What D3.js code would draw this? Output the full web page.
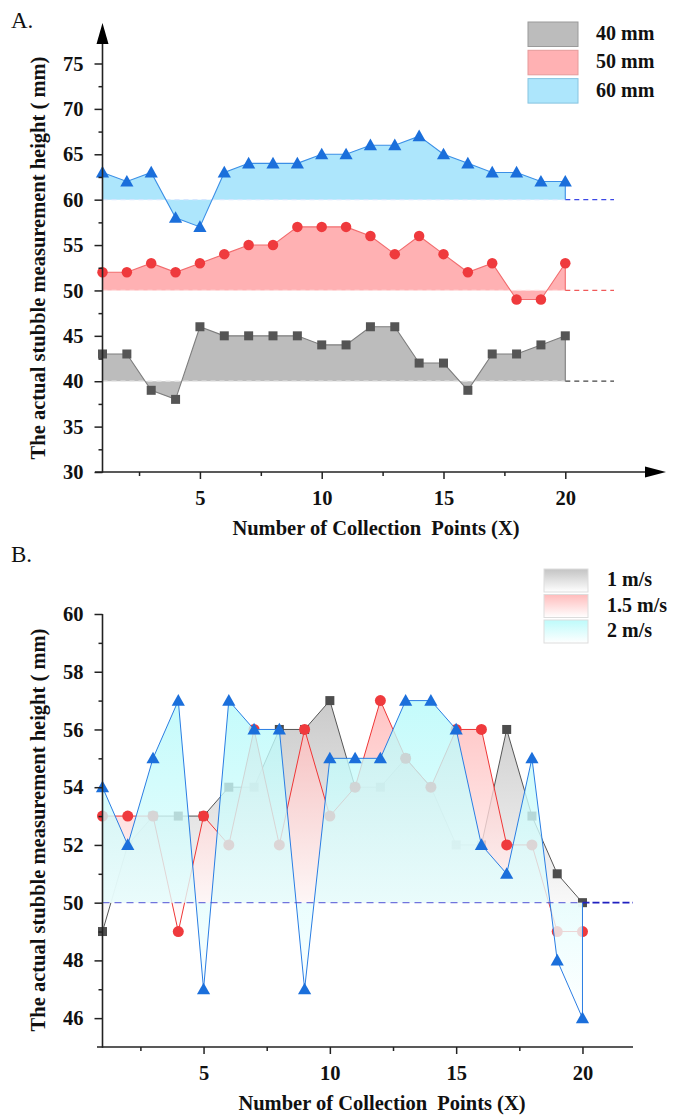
<!DOCTYPE html>
<html><head><meta charset="utf-8">
<script src="https://cdn.jsdelivr.net/npm/d3@7"></script>
<style>
body{margin:0;background:#fff}
svg{display:block}
text{font-family:"Liberation Serif","Times New Roman",serif;font-weight:bold;fill:#111;white-space:pre}
</style>
</head><body>
<svg id="c" width="682" height="1117"></svg>
<script>
// ---------- shared ----------
const points = [1,2,3,4,5,6,7,8,9,10,11,12,13,14,15,16,17,18,19,20];
const xTicks = [5,10,15,20];
const xMinorTicks = [2.5,7.5,12.5,17.5];
const xTitle = "Number of Collection  Points (X)";
const yTitle = "The actual stubble measurement height ( mm)";

// ---------- chart A ----------
const seriesA = ["40 mm","50 mm","60 mm"];
const baseA = [40,50,60];
const h40 = [43,43,39,38,46,45,45,45,45,44,44,46,46,42,42,39,43,43,44,45];
const h50 = [52,52,53,52,53,54,55,55,57,57,57,56,54,56,54,52,53,49,49,53];
const h60 = [63,62,63,58,57,63,64,64,64,65,65,66,66,67,65,64,63,63,62,62];
const yTicksA = [30,35,40,45,50,55,60,65,70,75];
const yMinorA = [32.5,37.5,42.5,47.5,52.5,57.5,62.5,67.5,72.5];

// ---------- chart B ----------
const seriesB = ["1 m/s","1.5 m/s","2 m/s"];
const v1  = [49,52,53,53,53,54,54,56,56,57,54,54,55,54,52,52,56,53,51,50];
const v15 = [53,53,53,49,53,52,56,52,56,53,54,57,55,54,56,56,52,52,49,49];
const v2  = [54,52,55,57,47,57,56,56,47,55,55,55,57,57,56,52,51,55,48,46];
const baseB = 50;
const yTicksB = [46,48,50,52,54,56,58,60];
const yMinorB = [47,49,51,53,55,57,59];

const svg = d3.select("#c");
const defs = svg.append("defs");
const TICK_FS = "20.5px", TITLE_FS = "20.5px", LEG_FS = "20px";

function shape(g, type, x, y, color, size){
  if(type==="square"){
    g.append("rect").attr("x",x-size/2).attr("y",y-size/2).attr("width",size).attr("height",size).attr("fill",color);
  } else if(type==="circle"){
    g.append("circle").attr("cx",x).attr("cy",y).attr("r",size/2).attr("fill",color);
  } else {
    const s=size;
    g.append("path").attr("d",`M${x},${y-s*0.55}L${x+s*0.55},${y+s*0.42}L${x-s*0.55},${y+s*0.42}Z`).attr("fill",color);
  }
}

function axes(g, x, y, yTicks, yMinor){
  const ya = d3.axisLeft(y).tickValues(yTicks).tickSize(8).tickPadding(11).tickSizeOuter(0);
  const gy = g.append("g").attr("transform",`translate(${x.range()[0]},0)`).call(ya);
  gy.select(".domain").remove();
  gy.selectAll("line").attr("stroke","#222").attr("stroke-width",1.5);
  gy.selectAll("text").style("font-size",TICK_FS).attr("fill","#111");
  const ym = d3.axisLeft(y).tickValues(yMinor).tickSize(4).tickFormat("");
  const gym = g.append("g").attr("transform",`translate(${x.range()[0]},0)`).call(ym);
  gym.select(".domain").remove();
  gym.selectAll("line").attr("stroke","#222").attr("stroke-width",1.5);

  const xa = d3.axisBottom(x).tickValues(xTicks).tickSize(7).tickPadding(11).tickSizeOuter(0);
  const gx = g.append("g").attr("transform",`translate(0,${y.range()[0]})`).call(xa);
  gx.select(".domain").remove();
  gx.selectAll("line").attr("stroke","#222").attr("stroke-width",1.5);
  gx.selectAll("text").style("font-size",TICK_FS).attr("fill","#111");
  const xm = d3.axisBottom(x).tickValues(xMinorTicks).tickSize(4).tickFormat("");
  const gxm = g.append("g").attr("transform",`translate(0,${y.range()[0]})`).call(xm);
  gxm.select(".domain").remove();
  gxm.selectAll("line").attr("stroke","#222").attr("stroke-width",1.5);
}

// ================= CHART A =================
{
  const x = d3.scaleLinear([1,22],[102.5,614]);
  const y = d3.scaleLinear([30,75],[472,63.5]);
  const g = svg.append("g");
  const dataA = [h40,h50,h60];
  const fills = ["#bcbcbc","#ffb1b3","#ade6fc"];
  const lines = ["#7d7d7d","#f26c6e","#3b8fe6"];
  const marks = ["#555555","#ef3a3d","#1b6fdb"];
  const dashIn = ["#e6e6e6","#ffe0e0","#d6e6ff"];
  const dashOut = ["#444444","#f05a5a","#3c48e6"];
  const types = ["square","circle","triangle"];
  const sizes = [9,10.5,12];
  dataA.forEach((vals,i)=>{
    const base = baseA[i];
    const d = points.map((p,j)=>[p,vals[j]]);
    g.append("path").datum(d)
      .attr("d", d3.area().x(p=>x(p[0])).y0(y(base)).y1(p=>y(p[1])))
      .attr("fill",fills[i]);
    g.append("line").attr("x1",x(1)).attr("x2",x(20)).attr("y1",y(base)).attr("y2",y(base))
      .attr("stroke",dashIn[i]).attr("stroke-width",1.3).attr("stroke-dasharray","5,4");
    g.append("line").attr("x1",x(20)).attr("x2",x(22)).attr("y1",y(base)).attr("y2",y(base))
      .attr("stroke",dashOut[i]).attr("stroke-width",1.3).attr("stroke-dasharray","5,4");
    g.append("path").datum(d.concat([[20,base]]))
      .attr("d", d3.line().x(p=>x(p[0])).y(p=>y(p[1])))
      .attr("fill","none").attr("stroke",lines[i]).attr("stroke-width",1.1);
    const mg = g.append("g");
    d.forEach(p=>shape(mg,types[i],x(p[0]),y(p[1]),marks[i],sizes[i]));
  });
  axes(g,x,y,yTicksA,yMinorA);
  g.append("line").attr("x1",x.range()[0]).attr("x2",x.range()[0]).attr("y1",y(30)+0.7).attr("y2",40)
    .attr("stroke","#222").attr("stroke-width",1.6);
  g.append("path").attr("d",`M${x.range()[0]},23L${x.range()[0]+6},44L${x.range()[0]-6},44Z`).attr("fill","#000");
  g.append("line").attr("x1",95).attr("x2",650).attr("y1",y(30)).attr("y2",y(30))
    .attr("stroke","#222").attr("stroke-width",1.6);
  g.append("path").attr("d",`M666,${y(30)}L645,${y(30)-5.5}L645,${y(30)+5.5}Z`).attr("fill","#000");
  g.append("text").attr("x",376).attr("y",535).attr("text-anchor","middle").style("font-size",TITLE_FS).text(xTitle);
  g.append("text").attr("transform","translate(45,258) rotate(-90)").attr("text-anchor","middle").style("font-size",TITLE_FS).text(yTitle);
  g.append("text").attr("x",11).attr("y",28).style("font-weight","normal").style("font-size","23px").text("A.");
  const borders = ["#9a9a9a","#e59a9a","#86c4e0"];
  const lg = g.append("g");
  seriesA.forEach((s,i)=>{
    const yy = 22 + i*28.3;
    lg.append("rect").attr("x",528).attr("y",yy).attr("width",50).attr("height",24.5)
      .attr("fill",fills[i]).attr("stroke",borders[i]).attr("stroke-width",1);
    lg.append("text").attr("x",596).attr("y",yy+18).style("font-size",LEG_FS).text(s);
  });
}

// ================= CHART B =================
{
  const x = d3.scaleLinear([1,22],[102.5,633]);
  const y = d3.scaleLinear([45,60],[1047,614]);
  const g = svg.append("g");
  const dataB = [v1,v15,v2];
  const tops = ["#bdbdbd","#ffb4b4","#b6fafa"];
  const lines = ["#555555","#ef3535","#2a7de3"];
  const marks = ["#4d4d4d","#ef3a3d","#1b6fdb"];
  const types = ["square","circle","triangle"];
  const sizes = [9,11,12];
  tops.forEach((c,i)=>{
    const gr = defs.append("linearGradient").attr("id","gB"+i).attr("x1",0).attr("x2",0).attr("y1",0).attr("y2",1);
    gr.append("stop").attr("offset","0%").attr("stop-color",c).attr("stop-opacity",0.8);
    gr.append("stop").attr("offset","100%").attr("stop-color","#ffffff").attr("stop-opacity",0.8);
    const lgr = defs.append("linearGradient").attr("id","lB"+i).attr("x1",0).attr("x2",0).attr("y1",0).attr("y2",1);
    lgr.append("stop").attr("offset","0%").attr("stop-color",c).attr("stop-opacity",0.9);
    lgr.append("stop").attr("offset","100%").attr("stop-color","#ffffff").attr("stop-opacity",0.9);
  });
  dataB.forEach((vals,i)=>{
    const d = points.map((p,j)=>[p,vals[j]]);
    g.append("path").datum(d)
      .attr("d", d3.area().x(p=>x(p[0])).y0(y(baseB)).y1(p=>y(p[1])))
      .attr("fill",`url(#gB${i})`);
    g.append("path").datum(d.concat([[20,baseB]]))
      .attr("d", d3.line().x(p=>x(p[0])).y(p=>y(p[1])))
      .attr("fill","none").attr("stroke",lines[i]).attr("stroke-width",1);
    const mg = g.append("g");
    d.forEach(p=>shape(mg,types[i],x(p[0]),y(p[1]),marks[i],sizes[i]));
  });
  g.append("line").attr("x1",x(1)).attr("x2",x(20)).attr("y1",y(baseB)).attr("y2",y(baseB))
    .attr("stroke","#3a3ad0").attr("stroke-opacity",0.7).attr("stroke-width",1.4).attr("stroke-dasharray","7,5");
  g.append("line").attr("x1",x(20)).attr("x2",x(22)).attr("y1",y(baseB)).attr("y2",y(baseB))
    .attr("stroke","#2020c0").attr("stroke-width",1.8).attr("stroke-dasharray","7,3");
  axes(g,x,y,yTicksB,yMinorB);
  g.append("line").attr("x1",x.range()[0]).attr("x2",x.range()[0]).attr("y1",y(45)+0.7).attr("y2",y(60))
    .attr("stroke","#222").attr("stroke-width",1.6);
  g.append("line").attr("x1",97).attr("x2",x.range()[1]).attr("y1",y(45)).attr("y2",y(45))
    .attr("stroke","#222").attr("stroke-width",1.6);
  g.append("text").attr("x",382).attr("y",1110).attr("text-anchor","middle").style("font-size",TITLE_FS).text(xTitle);
  g.append("text").attr("transform","translate(45,830) rotate(-90)").attr("text-anchor","middle").style("font-size",TITLE_FS).text(yTitle);
  g.append("text").attr("x",11).attr("y",562).style("font-weight","normal").style("font-size","23px").text("B.");
  const lg = g.append("g");
  seriesB.forEach((s,i)=>{
    const yy = 569 + i*25.5;
    lg.append("rect").attr("x",544).attr("y",yy).attr("width",44).attr("height",23)
      .attr("fill",`url(#lB${i})`).attr("stroke","#dddddd").attr("stroke-width",1);
    lg.append("text").attr("x",607).attr("y",yy+17).style("font-size",LEG_FS).text(s);
  });
}
</script>
</body></html>
